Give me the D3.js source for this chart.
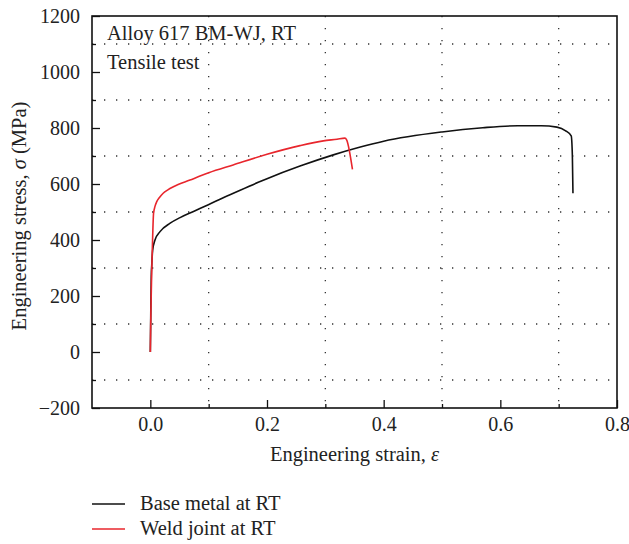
<!DOCTYPE html>
<html>
<head>
<meta charset="utf-8">
<script src="https://cdn.jsdelivr.net/npm/d3@7"></script>
<style>
  html, body { margin: 0; padding: 0; background: #fff; }
  svg text { font-family: "Liberation Serif", "DejaVu Serif", serif; fill: #222; }
</style>
</head>
<body>
<svg id="chart" width="629" height="544"></svg>
<script>
// Engineering strain / stress pairs for each specimen
const baseMetalStrain = [0, 0.0008, 0.0016, 0.0024, 0.004, 0.008, 0.0166, 0.034, 0.051, 0.074, 0.0995, 0.125, 0.154, 0.185, 0.2, 0.2566, 0.3137, 0.36, 0.4, 0.5, 0.57, 0.63, 0.67, 0.697, 0.712, 0.7215, 0.7235, 0.7245];
const baseMetalStress = [0, 150, 270, 310, 364, 400, 430, 460, 480, 502, 526, 551, 578, 606, 619, 664, 704, 732, 753, 786, 801, 808, 808, 803, 790, 772, 700, 567];

const weldStrain = [0, 0.001, 0.0025, 0.004, 0.0055, 0.008, 0.011, 0.016, 0.022, 0.03, 0.0395, 0.068, 0.1, 0.142, 0.2, 0.2566, 0.2966, 0.32, 0.3335, 0.3365, 0.3465];
const weldStress = [0, 150, 300, 412, 495, 520, 537, 553, 567, 579, 590, 614, 640, 668, 706, 737, 754, 760, 764, 758, 652];

const xTickValues = [0.0, 0.2, 0.4, 0.6, 0.8];
const xMinorValues = [0.1, 0.3, 0.5, 0.7];
const yTickValues = [-200, 0, 200, 400, 600, 800, 1000, 1200];
const yMinorValues = [-100, 100, 300, 500, 700, 900, 1100];

const seriesNames = ["Base metal at RT", "Weld joint at RT"];
const seriesColors = ["#111111", "#e8262d"];
const annotations = ["Alloy 617 BM-WJ, RT", "Tensile test"];

const svg = d3.select("#chart");
const margin = { left: 92, right: 12, top: 16, bottom: 136 };
const W = 629, H = 544;
const textSize = 20.5, tickSize = 20;

const x = d3.scaleLinear().domain([-0.1, 0.8]).range([margin.left, W - margin.right]);
const y = d3.scaleLinear().domain([-200, 1200]).range([H - margin.bottom, margin.top]);

const x0 = x.range()[0], x1 = x.range()[1];
const y0 = y.range()[0], y1 = y.range()[1];

// dotted grid at the minor positions
const grid = svg.append("g").attr("stroke", "#333").attr("stroke-width", 1.3)
  .attr("stroke-dasharray", "1.3,10.7");
grid.selectAll("line.v").data(xMinorValues).join("line")
  .attr("x1", d => x(d)).attr("x2", d => x(d))
  .attr("y1", y1).attr("y2", y0);
grid.selectAll("line.h").data(yMinorValues).join("line")
  .attr("x1", x0).attr("x2", x1)
  .attr("y1", d => y(d)).attr("y2", d => y(d));

// axes with inward ticks
const fmtX = d3.format(".1f");
const fmtY = d => d < 0 ? "\u2212" + Math.abs(d) : String(d);

const xAxis = svg.append("g").attr("transform", `translate(0,${y0})`)
  .call(d3.axisBottom(x).tickValues(xTickValues).tickSizeInner(-8).tickSizeOuter(0).tickPadding(9).tickFormat(fmtX));
const xMinor = svg.append("g").attr("transform", `translate(0,${y0})`)
  .call(d3.axisBottom(x).tickValues(xMinorValues).tickSizeInner(-4).tickSizeOuter(0).tickFormat(""));
const yAxis = svg.append("g").attr("transform", `translate(${x0},0)`)
  .call(d3.axisLeft(y).tickValues(yTickValues).tickSizeInner(-8).tickSizeOuter(0).tickPadding(12).tickFormat(fmtY));
const yMinor = svg.append("g").attr("transform", `translate(${x0},0)`)
  .call(d3.axisLeft(y).tickValues(yMinorValues).tickSizeInner(-4).tickSizeOuter(0).tickFormat(""));

[xAxis, xMinor, yAxis, yMinor].forEach(g => {
  g.select(".domain").remove();
  g.selectAll(".tick line").attr("stroke", "#111").attr("stroke-width", 1.3);
  g.selectAll("text").attr("font-size", tickSize).attr("fill", "#222")
    .style("font-family", '"Liberation Serif", "DejaVu Serif", serif');
});

// curves
const line = d3.line().x(d => x(d[0])).y(d => y(d[1])).curve(d3.curveMonotoneX);
const baseData = d3.zip(baseMetalStrain, baseMetalStress);
const weldData = d3.zip(weldStrain, weldStress);

svg.append("path").datum(baseData).attr("d", line)
  .attr("fill", "none").attr("stroke", seriesColors[0]).attr("stroke-width", 1.6);
svg.append("path").datum(weldData).attr("d", line)
  .attr("fill", "none").attr("stroke", seriesColors[1]).attr("stroke-width", 1.6);

// frame
svg.append("rect").attr("x", x0).attr("y", y1)
  .attr("width", x1 - x0).attr("height", y0 - y1)
  .attr("fill", "none").attr("stroke", "#111").attr("stroke-width", 1.6);

// annotation text
svg.selectAll("text.note").data(annotations).join("text")
  .attr("class", "note")
  .attr("x", x0 + 15).attr("y", (d, i) => 40 + i * 29)
  .attr("font-size", textSize).text(d => d);

// axis titles
svg.append("text").attr("x", (x0 + x1) / 2).attr("y", 461)
  .attr("text-anchor", "middle").attr("font-size", textSize)
  .html('Engineering strain, <tspan font-style="italic">ε</tspan>');

svg.append("text")
  .attr("transform", `translate(26,${(y0 + y1) / 2 + 4}) rotate(-90)`)
  .attr("text-anchor", "middle").attr("font-size", textSize)
  .html('Engineering stress, <tspan font-style="italic">σ</tspan> (MPa)');

// legend
const legend = svg.append("g");
seriesNames.forEach((name, i) => {
  const ly = 504 + i * 25;
  legend.append("line").attr("x1", 92).attr("x2", 125).attr("y1", ly).attr("y2", ly)
    .attr("stroke", seriesColors[i]).attr("stroke-width", 1.4);
  legend.append("text").attr("x", 140).attr("y", ly + 6).attr("font-size", textSize).text(name);
});
</script>
</body>
</html>
